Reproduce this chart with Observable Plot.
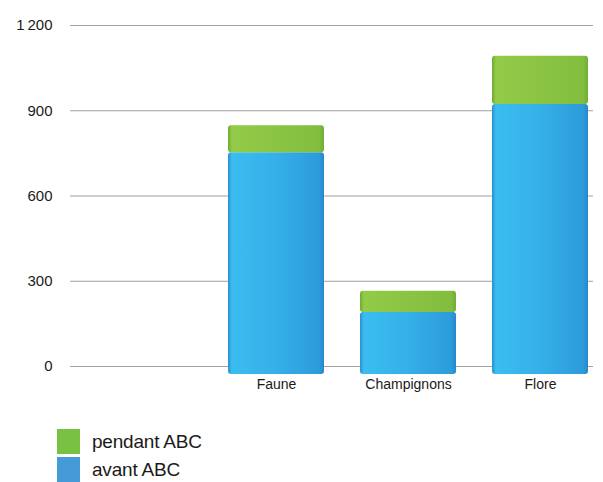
<!DOCTYPE html>
<html>
<head>
<meta charset="utf-8">
<script src="https://cdn.jsdelivr.net/npm/d3@7"></script>
<script src="https://cdn.jsdelivr.net/npm/@observablehq/plot@0.6"></script>
<style>
  body { margin: 0; background: #fff; font-family: "Liberation Sans", Arial, sans-serif; }
  #wrap { position: relative; width: 603px; height: 482px; }
  .legend { position: absolute; left: 57px; top: 429px; }
  .item { display: flex; align-items: center; height: 25px; margin-bottom: 3px; font-size: 19px; line-height: 22px; color: #1a1a1a; letter-spacing: -0.2px; }
  .sw { width: 23px; height: 25px; margin-right: 12px; }
</style>
</head>
<body>
<div id="wrap"></div>
<script>
const categories = ["Faune", "Champignons", "Flore"];
const avant = [780, 218, 950];
const pendant = [95, 75, 170];
const series = ["avant ABC", "pendant ABC"];
const colors = ["#36b4e9", "#8cc543"];
const legendColors = ["#449bd8", "#79c142"];
const yTicks = [0, 300, 600, 900, 1200];
const yTickLabels = ["0", "300", "600", "900", "1\u2009200"];

const data = [];
categories.forEach((c, i) => {
  data.push({cat: c, serie: series[0], value: avant[i]});
  data.push({cat: c, serie: series[1], value: pendant[i]});
});

const chart = Plot.plot({
  width: 603,
  height: 400,
  marginLeft: 70,
  marginRight: 10,
  marginTop: 20,
  marginBottom: 34,
  style: {fontFamily: "Liberation Sans, Arial, sans-serif", color: "#1a1a1a", background: "#fff"},
  x: {domain: categories, range: [227, 590], paddingInner: 0.27, paddingOuter: 0, label: null},
  y: {domain: [0, 1200], range: [366, 25], label: null},
  color: {domain: series, range: colors},
  marks: [
    Plot.ruleY(yTicks, {stroke: "#a0a0a0", strokeWidth: 1}),
    Plot.axisY({ticks: yTicks, tickFormat: (d) => yTickLabels[yTicks.indexOf(d)], tickSize: 0, tickPadding: 18, fontSize: 15, label: null}),
    Plot.barY(data, Plot.stackY({x: "cat", y: "value", fill: "serie", order: series, rx: 3, dy: 8})),
    Plot.axisX({tickSize: 0, tickPadding: 13, fontSize: 14, label: null})
  ]
});

// horizontal shading on the bars, as in the reference
const svgNS = "http://www.w3.org/2000/svg";
const defs = document.createElementNS(svgNS, "defs");
const grads = {
  [colors[0]]: ["gBlue", ["#2a8fd0", "#3bbdf0", "#35b0e8", "#2c9bdb", "#2688cb"]],
  [colors[1]]: ["gGreen", ["#6eaa35", "#92cb47", "#8bc443", "#82bd3f", "#72ad36"]]
};
Object.values(grads).forEach(([id, stops]) => {
  const g = document.createElementNS(svgNS, "linearGradient");
  g.setAttribute("id", id);
  g.setAttribute("x1", "0"); g.setAttribute("x2", "1"); g.setAttribute("y1", "0"); g.setAttribute("y2", "0");
  const offs = [0, 0.04, 0.5, 0.95, 1];
  stops.forEach((c, k) => {
    const s = document.createElementNS(svgNS, "stop");
    s.setAttribute("offset", offs[k]);
    s.setAttribute("stop-color", c);
    g.appendChild(s);
  });
  defs.appendChild(g);
});
chart.insertBefore(defs, chart.firstChild);
chart.querySelectorAll("rect").forEach(r => {
  const f = r.getAttribute("fill");
  if (f && grads[f]) r.setAttribute("fill", `url(#${grads[f][0]})`);
});

document.getElementById("wrap").appendChild(chart);

const legend = document.createElement("div");
legend.className = "legend";
[[series[1], legendColors[1]], [series[0], legendColors[0]]].forEach(([name, col]) => {
  const it = document.createElement("div");
  it.className = "item";
  const sw = document.createElement("span");
  sw.className = "sw";
  sw.style.background = col;
  it.appendChild(sw);
  it.appendChild(document.createTextNode(name));
  legend.appendChild(it);
});
document.getElementById("wrap").appendChild(legend);
</script>
</body>
</html>
